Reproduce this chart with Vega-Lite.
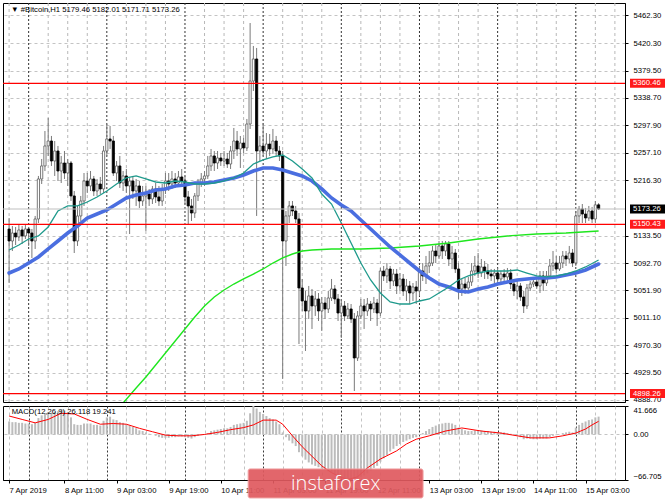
{
  "$schema": "https://vega.github.io/schema/vega-lite/v6.json",
  "padding": {"left": 1, "top": 2, "right": 0, "bottom": 0},
  "background": "#ffffff",
  "spacing": 4,
  "bounds": "flush",
  "datasets": {
    "daylines": [{"h":24},{"h":48},{"h":72},{"h":96},{"h":120},{"h":144},{"h":168},{"h":192}],
    "sixhour": [
{"h":18},{"h":30},{"h":36},{"h":42},{"h":54},{"h":60},{"h":66},{"h":78},{"h":84},{"h":90},{"h":102},{"h":108},
{"h":114},{"h":126},{"h":132},{"h":138},{"h":150},{"h":156},{"h":162},{"h":174},{"h":180},{"h":186},{"h":198},{"h":204}
    ],
    "candles": [
{"h":18,"o":5143.5,"hi":5159.9,"lo":5063.0,"c":5125.6},
{"h":19,"o":5125.6,"hi":5148.0,"lo":5110.7,"c":5137.5},
{"h":20,"o":5137.5,"hi":5146.5,"lo":5119.6,"c":5131.6},
{"h":21,"o":5131.6,"hi":5149.4,"lo":5125.6,"c":5142.0},
{"h":22,"o":5142.0,"hi":5148.0,"lo":5121.1,"c":5133.1},
{"h":23,"o":5133.1,"hi":5149.4,"lo":5128.6,"c":5143.5},
{"h":24,"o":5143.5,"hi":5146.5,"lo":5118.2,"c":5137.5},
{"h":25,"o":5137.5,"hi":5143.5,"lo":5100.3,"c":5125.6},
{"h":26,"o":5125.6,"hi":5162.9,"lo":5113.7,"c":5158.4},
{"h":27,"o":5158.4,"hi":5222.5,"lo":5152.4,"c":5218.0},
{"h":28,"o":5218.0,"hi":5247.8,"lo":5210.5,"c":5237.4},
{"h":29,"o":5237.4,"hi":5289.5,"lo":5229.9,"c":5267.2},
{"h":30,"o":5267.2,"hi":5308.9,"lo":5252.3,"c":5274.6},
{"h":31,"o":5274.6,"hi":5282.1,"lo":5237.4,"c":5244.8},
{"h":32,"o":5244.8,"hi":5274.6,"lo":5222.5,"c":5259.7},
{"h":33,"o":5259.7,"hi":5267.2,"lo":5215.0,"c":5229.9},
{"h":34,"o":5229.9,"hi":5252.3,"lo":5212.0,"c":5241.8},
{"h":35,"o":5241.8,"hi":5259.7,"lo":5218.0,"c":5226.9},
{"h":36,"o":5226.9,"hi":5247.8,"lo":5207.6,"c":5241.8},
{"h":37,"o":5241.8,"hi":5244.8,"lo":5185.2,"c":5192.7},
{"h":38,"o":5192.7,"hi":5200.1,"lo":5107.7,"c":5125.6},
{"h":39,"o":5125.6,"hi":5177.8,"lo":5118.2,"c":5162.9},
{"h":40,"o":5162.9,"hi":5192.7,"lo":5155.4,"c":5185.2},
{"h":41,"o":5185.2,"hi":5226.9,"lo":5177.8,"c":5215.0},
{"h":42,"o":5215.0,"hi":5226.9,"lo":5197.1,"c":5207.6},
{"h":43,"o":5207.6,"hi":5229.9,"lo":5200.1,"c":5218.0},
{"h":44,"o":5218.0,"hi":5222.5,"lo":5192.7,"c":5200.1},
{"h":45,"o":5200.1,"hi":5218.0,"lo":5192.7,"c":5210.5},
{"h":46,"o":5210.5,"hi":5221.0,"lo":5195.6,"c":5203.1},
{"h":47,"o":5203.1,"hi":5267.2,"lo":5197.1,"c":5259.7},
{"h":48,"o":5259.7,"hi":5299.9,"lo":5252.3,"c":5277.6},
{"h":49,"o":5277.6,"hi":5297.0,"lo":5262.7,"c":5274.6},
{"h":50,"o":5274.6,"hi":5282.1,"lo":5222.5,"c":5226.9},
{"h":51,"o":5226.9,"hi":5244.8,"lo":5215.0,"c":5237.4},
{"h":52,"o":5237.4,"hi":5252.3,"lo":5204.6,"c":5212.0},
{"h":53,"o":5212.0,"hi":5229.9,"lo":5200.1,"c":5222.5},
{"h":54,"o":5222.5,"hi":5232.9,"lo":5197.1,"c":5207.6},
{"h":55,"o":5207.6,"hi":5221.0,"lo":5136.0,"c":5215.0},
{"h":56,"o":5215.0,"hi":5222.5,"lo":5188.2,"c":5200.1},
{"h":57,"o":5200.1,"hi":5218.0,"lo":5177.8,"c":5207.6},
{"h":58,"o":5207.6,"hi":5215.0,"lo":5174.8,"c":5185.2},
{"h":59,"o":5185.2,"hi":5207.6,"lo":5177.8,"c":5192.7},
{"h":60,"o":5192.7,"hi":5207.6,"lo":5140.5,"c":5195.6},
{"h":61,"o":5195.6,"hi":5203.1,"lo":5177.8,"c":5188.2},
{"h":62,"o":5188.2,"hi":5207.6,"lo":5180.7,"c":5203.1},
{"h":63,"o":5203.1,"hi":5212.0,"lo":5182.2,"c":5191.2},
{"h":64,"o":5191.2,"hi":5207.6,"lo":5177.8,"c":5185.2},
{"h":65,"o":5185.2,"hi":5210.5,"lo":5177.8,"c":5203.1},
{"h":66,"o":5203.1,"hi":5226.9,"lo":5195.6,"c":5215.0},
{"h":67,"o":5215.0,"hi":5226.9,"lo":5200.1,"c":5210.5},
{"h":68,"o":5210.5,"hi":5229.9,"lo":5203.1,"c":5218.0},
{"h":69,"o":5218.0,"hi":5226.9,"lo":5204.6,"c":5212.0},
{"h":70,"o":5212.0,"hi":5229.9,"lo":5206.1,"c":5221.0},
{"h":71,"o":5221.0,"hi":5232.9,"lo":5206.1,"c":5215.0},
{"h":72,"o":5215.0,"hi":5222.5,"lo":5180.7,"c":5191.2},
{"h":73,"o":5191.2,"hi":5200.1,"lo":5150.9,"c":5177.8},
{"h":74,"o":5177.8,"hi":5188.2,"lo":5155.4,"c":5167.3},
{"h":75,"o":5167.3,"hi":5197.1,"lo":5159.9,"c":5192.7},
{"h":76,"o":5192.7,"hi":5218.0,"lo":5185.2,"c":5212.0},
{"h":77,"o":5212.0,"hi":5226.9,"lo":5206.1,"c":5218.0},
{"h":78,"o":5218.0,"hi":5229.9,"lo":5207.6,"c":5222.5},
{"h":79,"o":5222.5,"hi":5252.3,"lo":5218.0,"c":5237.4},
{"h":80,"o":5237.4,"hi":5262.7,"lo":5229.9,"c":5252.3},
{"h":81,"o":5252.3,"hi":5259.7,"lo":5229.9,"c":5241.8},
{"h":82,"o":5241.8,"hi":5259.7,"lo":5232.9,"c":5249.3},
{"h":83,"o":5249.3,"hi":5256.7,"lo":5237.4,"c":5244.8},
{"h":84,"o":5244.8,"hi":5259.7,"lo":5237.4,"c":5247.8},
{"h":85,"o":5247.8,"hi":5256.7,"lo":5234.4,"c":5240.3},
{"h":86,"o":5240.3,"hi":5267.2,"lo":5232.9,"c":5259.7},
{"h":87,"o":5259.7,"hi":5294.0,"lo":5247.8,"c":5274.6},
{"h":88,"o":5274.6,"hi":5289.5,"lo":5252.3,"c":5262.7},
{"h":89,"o":5262.7,"hi":5282.1,"lo":5234.4,"c":5271.6},
{"h":90,"o":5271.6,"hi":5279.1,"lo":5256.7,"c":5264.2},
{"h":91,"o":5264.2,"hi":5307.4,"lo":5259.7,"c":5299.9},
{"h":92,"o":5299.9,"hi":5450.4,"lo":5292.5,"c":5364.0},
{"h":93,"o":5364.0,"hi":5416.2,"lo":5349.1,"c":5396.8},
{"h":94,"o":5396.8,"hi":5413.2,"lo":5162.9,"c":5259.7},
{"h":95,"o":5259.7,"hi":5282.1,"lo":5244.8,"c":5267.2},
{"h":96,"o":5267.2,"hi":5301.4,"lo":5252.3,"c":5259.7},
{"h":97,"o":5259.7,"hi":5286.5,"lo":5247.8,"c":5270.1},
{"h":98,"o":5270.1,"hi":5285.0,"lo":5252.3,"c":5262.7},
{"h":99,"o":5262.7,"hi":5292.5,"lo":5255.2,"c":5274.6},
{"h":100,"o":5274.6,"hi":5282.1,"lo":5252.3,"c":5259.7},
{"h":101,"o":5259.7,"hi":5267.2,"lo":5244.8,"c":5252.3},
{"h":102,"o":5252.3,"hi":5259.7,"lo":4920.0,"c":5125.6},
{"h":103,"o":5125.6,"hi":5170.3,"lo":5088.4,"c":5162.9},
{"h":104,"o":5162.9,"hi":5185.2,"lo":5152.4,"c":5177.8},
{"h":105,"o":5177.8,"hi":5185.2,"lo":5162.9,"c":5170.3},
{"h":106,"o":5170.3,"hi":5177.8,"lo":5152.4,"c":5158.4},
{"h":107,"o":5158.4,"hi":5167.3,"lo":4972.1,"c":5055.6},
{"h":108,"o":5055.6,"hi":5069.0,"lo":5021.3,"c":5036.2},
{"h":109,"o":5036.2,"hi":5051.1,"lo":4961.7,"c":5021.3},
{"h":110,"o":5021.3,"hi":5058.6,"lo":5009.4,"c":5043.7},
{"h":111,"o":5043.7,"hi":5054.1,"lo":4994.5,"c":5028.8},
{"h":112,"o":5028.8,"hi":5051.1,"lo":5013.9,"c":5039.2},
{"h":113,"o":5039.2,"hi":5048.1,"lo":5006.4,"c":5021.3},
{"h":114,"o":5021.3,"hi":5042.2,"lo":4991.5,"c":5033.2},
{"h":115,"o":5033.2,"hi":5042.2,"lo":5009.4,"c":5024.3},
{"h":116,"o":5024.3,"hi":5051.1,"lo":5018.3,"c":5040.7},
{"h":117,"o":5040.7,"hi":5069.0,"lo":5036.2,"c":5054.1},
{"h":118,"o":5054.1,"hi":5060.0,"lo":5031.7,"c":5039.2},
{"h":119,"o":5039.2,"hi":5046.6,"lo":5006.4,"c":5018.3},
{"h":120,"o":5018.3,"hi":5039.2,"lo":4981.1,"c":5028.8},
{"h":121,"o":5028.8,"hi":5036.2,"lo":5006.4,"c":5013.9},
{"h":122,"o":5013.9,"hi":5033.2,"lo":5009.4,"c":5024.3},
{"h":123,"o":5024.3,"hi":5031.7,"lo":5003.4,"c":5009.4},
{"h":124,"o":5009.4,"hi":5018.3,"lo":4902.1,"c":4951.3},
{"h":125,"o":4951.3,"hi":5021.3,"lo":4946.8,"c":5013.9},
{"h":126,"o":5013.9,"hi":5039.2,"lo":5009.4,"c":5028.8},
{"h":127,"o":5028.8,"hi":5039.2,"lo":4994.5,"c":5021.3},
{"h":128,"o":5021.3,"hi":5040.7,"lo":5013.9,"c":5031.7},
{"h":129,"o":5031.7,"hi":5036.2,"lo":5006.4,"c":5024.3},
{"h":130,"o":5024.3,"hi":5042.2,"lo":5018.3,"c":5033.2},
{"h":131,"o":5033.2,"hi":5039.2,"lo":4999.0,"c":5018.3},
{"h":132,"o":5018.3,"hi":5085.4,"lo":5013.9,"c":5080.9},
{"h":133,"o":5080.9,"hi":5088.4,"lo":5066.0,"c":5073.5},
{"h":134,"o":5073.5,"hi":5092.8,"lo":5063.0,"c":5083.9},
{"h":135,"o":5083.9,"hi":5088.4,"lo":5054.1,"c":5066.0},
{"h":136,"o":5066.0,"hi":5083.9,"lo":5058.6,"c":5076.4},
{"h":137,"o":5076.4,"hi":5083.9,"lo":5046.6,"c":5058.6},
{"h":138,"o":5058.6,"hi":5077.9,"lo":5051.1,"c":5069.0},
{"h":139,"o":5069.0,"hi":5076.4,"lo":5043.7,"c":5051.1},
{"h":140,"o":5051.1,"hi":5069.0,"lo":5036.2,"c":5058.6},
{"h":141,"o":5058.6,"hi":5066.0,"lo":5031.7,"c":5048.1},
{"h":142,"o":5048.1,"hi":5063.0,"lo":5036.2,"c":5057.1},
{"h":143,"o":5057.1,"hi":5066.0,"lo":5031.7,"c":5051.1},
{"h":144,"o":5051.1,"hi":5088.4,"lo":5043.7,"c":5080.9},
{"h":145,"o":5080.9,"hi":5092.8,"lo":5066.0,"c":5073.5},
{"h":146,"o":5073.5,"hi":5103.3,"lo":5061.5,"c":5088.4},
{"h":147,"o":5088.4,"hi":5110.7,"lo":5077.9,"c":5092.8},
{"h":148,"o":5092.8,"hi":5118.2,"lo":5088.4,"c":5110.7},
{"h":149,"o":5110.7,"hi":5121.1,"lo":5092.8,"c":5103.3},
{"h":150,"o":5103.3,"hi":5125.6,"lo":5098.8,"c":5118.2},
{"h":151,"o":5118.2,"hi":5125.6,"lo":5098.8,"c":5110.7},
{"h":152,"o":5110.7,"hi":5125.6,"lo":5103.3,"c":5121.1},
{"h":153,"o":5121.1,"hi":5125.6,"lo":5088.4,"c":5098.8},
{"h":154,"o":5098.8,"hi":5118.2,"lo":5083.9,"c":5107.7},
{"h":155,"o":5107.7,"hi":5113.7,"lo":5077.9,"c":5083.9},
{"h":156,"o":5083.9,"hi":5092.8,"lo":5039.2,"c":5054.1},
{"h":157,"o":5054.1,"hi":5069.0,"lo":5043.7,"c":5061.5},
{"h":158,"o":5061.5,"hi":5070.5,"lo":5046.6,"c":5055.6},
{"h":159,"o":5055.6,"hi":5072.0,"lo":5051.1,"c":5064.5},
{"h":160,"o":5064.5,"hi":5092.8,"lo":5058.6,"c":5080.9},
{"h":161,"o":5080.9,"hi":5103.3,"lo":5073.5,"c":5088.4},
{"h":162,"o":5088.4,"hi":5107.7,"lo":5070.5,"c":5077.9},
{"h":163,"o":5077.9,"hi":5098.8,"lo":5072.0,"c":5086.9},
{"h":164,"o":5086.9,"hi":5095.8,"lo":5069.0,"c":5080.9},
{"h":165,"o":5080.9,"hi":5091.3,"lo":5069.0,"c":5076.4},
{"h":166,"o":5076.4,"hi":5083.9,"lo":5066.0,"c":5073.5},
{"h":167,"o":5073.5,"hi":5083.9,"lo":5063.0,"c":5077.9},
{"h":168,"o":5077.9,"hi":5085.4,"lo":5061.5,"c":5069.0},
{"h":169,"o":5069.0,"hi":5080.9,"lo":5063.0,"c":5076.4},
{"h":170,"o":5076.4,"hi":5083.9,"lo":5066.0,"c":5072.0},
{"h":171,"o":5072.0,"hi":5085.4,"lo":5064.5,"c":5077.9},
{"h":172,"o":5077.9,"hi":5083.9,"lo":5054.1,"c":5061.5},
{"h":173,"o":5061.5,"hi":5069.0,"lo":5043.7,"c":5051.1},
{"h":174,"o":5051.1,"hi":5066.0,"lo":5039.2,"c":5058.6},
{"h":175,"o":5058.6,"hi":5063.0,"lo":5036.2,"c":5042.2},
{"h":176,"o":5042.2,"hi":5051.1,"lo":5018.3,"c":5028.8},
{"h":177,"o":5028.8,"hi":5061.5,"lo":5024.3,"c":5055.6},
{"h":178,"o":5055.6,"hi":5066.0,"lo":5051.1,"c":5061.5},
{"h":179,"o":5061.5,"hi":5069.0,"lo":5057.1,"c":5064.5},
{"h":180,"o":5064.5,"hi":5072.0,"lo":5054.1,"c":5058.6},
{"h":181,"o":5058.6,"hi":5080.9,"lo":5048.1,"c":5073.5},
{"h":182,"o":5073.5,"hi":5080.9,"lo":5051.1,"c":5063.0},
{"h":183,"o":5063.0,"hi":5080.9,"lo":5058.6,"c":5073.5},
{"h":184,"o":5073.5,"hi":5098.8,"lo":5069.0,"c":5088.4},
{"h":185,"o":5088.4,"hi":5110.7,"lo":5080.9,"c":5092.8},
{"h":186,"o":5092.8,"hi":5103.3,"lo":5077.9,"c":5083.9},
{"h":187,"o":5083.9,"hi":5103.3,"lo":5080.9,"c":5092.8},
{"h":188,"o":5092.8,"hi":5110.7,"lo":5085.4,"c":5103.3},
{"h":189,"o":5103.3,"hi":5110.7,"lo":5088.4,"c":5098.8},
{"h":190,"o":5098.8,"hi":5118.2,"lo":5092.8,"c":5107.7},
{"h":191,"o":5107.7,"hi":5113.7,"lo":5086.9,"c":5092.8},
{"h":192,"o":5092.8,"hi":5170.3,"lo":5088.4,"c":5162.9},
{"h":193,"o":5162.9,"hi":5177.8,"lo":5152.4,"c":5173.3},
{"h":194,"o":5173.3,"hi":5180.7,"lo":5152.4,"c":5165.8},
{"h":195,"o":5165.8,"hi":5174.8,"lo":5152.4,"c":5159.9},
{"h":196,"o":5159.9,"hi":5177.8,"lo":5155.4,"c":5170.3},
{"h":197,"o":5170.3,"hi":5176.3,"lo":5152.4,"c":5158.4},
{"h":198,"o":5158.4,"hi":5185.2,"lo":5152.4,"c":5179.46},
{"h":199,"o":5179.46,"hi":5182.01,"lo":5171.71,"c":5173.26}
    ],
    "ma": [
{"h":18,"fast":5112.2,"slow":5077.9},{"h":21,"fast":5119.6,"slow":5083.9},{"h":24,"fast":5128.6,"slow":5092.8},
{"h":27,"fast":5133.1,"slow":5101.8},{"h":30,"fast":5146.5,"slow":5113.7},{"h":33,"fast":5170.3,"slow":5125.6},
{"h":36,"fast":5177.8,"slow":5137.5},{"h":39,"fast":5177.8,"slow":5148.0},{"h":42,"fast":5183.7,"slow":5159.9},
{"h":45,"fast":5191.2,"slow":5165.8},{"h":48,"fast":5200.1,"slow":5171.8},{"h":51,"fast":5210.5,"slow":5180.7},
{"h":54,"fast":5219.5,"slow":5189.7},{"h":57,"fast":5222.5,"slow":5194.1},{"h":60,"fast":5218.0,"slow":5197.1},
{"h":63,"fast":5213.5,"slow":5201.6},{"h":66,"fast":5212.0,"slow":5203.1},{"h":69,"fast":5215.0,"slow":5207.6},
{"h":72,"fast":5213.5,"slow":5209.0},{"h":75,"fast":5210.5,"slow":5212.0},{"h":78,"fast":5210.5,"slow":5212.0},
{"h":81,"fast":5212.0,"slow":5213.5},{"h":84,"fast":5215.0,"slow":5216.5},{"h":87,"fast":5219.5,"slow":5219.5},
{"h":90,"fast":5226.9,"slow":5223.9},{"h":93,"fast":5240.3,"slow":5229.9},{"h":96,"fast":5246.3,"slow":5234.4},
{"h":99,"fast":5250.8,"slow":5234.4},{"h":102,"fast":5253.7,"slow":5231.4},{"h":105,"fast":5244.8,"slow":5226.9},
{"h":108,"fast":5232.9,"slow":5222.5},{"h":111,"fast":5219.5,"slow":5215.0},{"h":114,"fast":5195.6,"slow":5203.1},
{"h":117,"fast":5180.7,"slow":5189.7},{"h":120,"fast":5152.4,"slow":5179.2},{"h":123,"fast":5122.6,"slow":5170.3},
{"h":126,"fast":5092.8,"slow":5156.9},{"h":129,"fast":5067.5,"slow":5143.5},{"h":132,"fast":5048.1,"slow":5130.1},
{"h":135,"fast":5034.7,"slow":5116.7},{"h":138,"fast":5031.7,"slow":5104.8},{"h":141,"fast":5031.7,"slow":5092.8},
{"h":144,"fast":5036.2,"slow":5080.9},{"h":147,"fast":5039.2,"slow":5070.5},{"h":150,"fast":5048.1,"slow":5061.5},
{"h":153,"fast":5057.1,"slow":5057.1},{"h":156,"fast":5067.5,"slow":5051.1},{"h":159,"fast":5073.5,"slow":5049.6},
{"h":162,"fast":5077.9,"slow":5054.1},{"h":165,"fast":5080.9,"slow":5057.1},{"h":168,"fast":5080.9,"slow":5061.5},
{"h":171,"fast":5080.9,"slow":5064.5},{"h":174,"fast":5082.4,"slow":5067.5},{"h":177,"fast":5077.9,"slow":5069.0},
{"h":180,"fast":5073.5,"slow":5070.5},{"h":183,"fast":5072.0,"slow":5070.5},{"h":186,"fast":5073.5,"slow":5072.0},
{"h":189,"fast":5076.4,"slow":5074.9},{"h":192,"fast":5080.9,"slow":5077.9},{"h":195,"fast":5086.9,"slow":5082.4},
{"h":199,"fast":5097.3,"slow":5091.3}
    ],
    "ma200": [
{"h":53,"v":4884.2},{"h":57,"v":4906.6},{"h":60,"v":4923.0},{"h":63,"v":4940.8},{"h":66,"v":4958.7},
{"h":69,"v":4976.6},{"h":72,"v":4994.5},{"h":75,"v":5012.4},{"h":78,"v":5028.8},{"h":81,"v":5042.2},
{"h":84,"v":5052.6},{"h":87,"v":5061.5},{"h":90,"v":5069.0},{"h":93,"v":5076.4},{"h":96,"v":5083.9},
{"h":99,"v":5092.8},{"h":102,"v":5100.3},{"h":105,"v":5106.2},{"h":108,"v":5110.7},{"h":111,"v":5112.2},
{"h":117,"v":5113.7},{"h":126,"v":5113.7},{"h":135,"v":5115.2},{"h":144,"v":5118.2},{"h":153,"v":5122.6},
{"h":162,"v":5128.6},{"h":171,"v":5133.1},{"h":180,"v":5136.0},{"h":189,"v":5137.5},{"h":199,"v":5140.5}
    ],
    "levels": [
{"price":5360.46,"kind":"line"},{"price":5150.43,"kind":"line"},{"price":4898.26,"kind":"line"},{"price":5173.26,"kind":"bid"}
    ],
    "macd": [
{"h":18,"v":19},{"h":19,"v":18},{"h":20,"v":18},{"h":21,"v":17},{"h":22,"v":17},{"h":23,"v":16},{"h":24,"v":16},{"h":25,"v":15},
{"h":26,"v":17},{"h":27,"v":24},{"h":28,"v":28},{"h":29,"v":31},{"h":30,"v":33},{"h":31,"v":32},{"h":32,"v":33},{"h":33,"v":34},
{"h":34,"v":36},{"h":35,"v":35},{"h":36,"v":33},{"h":37,"v":25},{"h":38,"v":15},{"h":39,"v":14},{"h":40,"v":14},{"h":41,"v":16},
{"h":42,"v":16},{"h":43,"v":16},{"h":44,"v":14},{"h":45,"v":14},{"h":46,"v":13},{"h":47,"v":20},{"h":48,"v":25},{"h":49,"v":26},
{"h":50,"v":22},{"h":51,"v":21},{"h":52,"v":18},{"h":53,"v":17},{"h":54,"v":15},{"h":55,"v":13},{"h":56,"v":11},{"h":57,"v":9},
{"h":58,"v":6},{"h":59,"v":5},{"h":60,"v":3},{"h":61,"v":1},{"h":62,"v":0},{"h":63,"v":-2},{"h":64,"v":-4},{"h":65,"v":-5},
{"h":66,"v":-5},{"h":67,"v":-5},{"h":68,"v":-4},{"h":69,"v":-4},{"h":70,"v":-3},{"h":71,"v":-3},{"h":72,"v":-4},{"h":73,"v":-5},
{"h":74,"v":-6},{"h":75,"v":-4},{"h":76,"v":-2},{"h":77,"v":-1},{"h":78,"v":0},{"h":79,"v":2},{"h":80,"v":5},{"h":81,"v":6},
{"h":82,"v":7},{"h":83,"v":8},{"h":84,"v":9},{"h":85,"v":9},{"h":86,"v":11},{"h":87,"v":14},{"h":88,"v":15},{"h":89,"v":16},
{"h":90,"v":17},{"h":91,"v":20},{"h":92,"v":31},{"h":93,"v":41.666},{"h":94,"v":38},{"h":95,"v":33},{"h":96,"v":30},{"h":97,"v":27},
{"h":98,"v":24},{"h":99,"v":22},{"h":100,"v":19},{"h":101,"v":15},{"h":102,"v":3},{"h":103,"v":-4},{"h":104,"v":-9},{"h":105,"v":-13},
{"h":106,"v":-17},{"h":107,"v":-26},{"h":108,"v":-32},{"h":109,"v":-37},{"h":110,"v":-41},{"h":111,"v":-44},{"h":112,"v":-46},{"h":113,"v":-48},
{"h":114,"v":-50},{"h":115,"v":-52},{"h":116,"v":-54},{"h":117,"v":-56},{"h":118,"v":-58},{"h":119,"v":-61},{"h":120,"v":-63},{"h":121,"v":-65},
{"h":122,"v":-66},{"h":123,"v":-66.705},{"h":124,"v":-66},{"h":125,"v":-64},{"h":126,"v":-62},{"h":127,"v":-60},{"h":128,"v":-57},{"h":129,"v":-53},
{"h":130,"v":-49},{"h":131,"v":-46},{"h":132,"v":-40},{"h":133,"v":-35},{"h":134,"v":-30},{"h":135,"v":-25},{"h":136,"v":-21},{"h":137,"v":-17},
{"h":138,"v":-14},{"h":139,"v":-11},{"h":140,"v":-9},{"h":141,"v":-7},{"h":142,"v":-5},{"h":143,"v":-4},{"h":144,"v":0},{"h":145,"v":2},
{"h":146,"v":5},{"h":147,"v":8},{"h":148,"v":11},{"h":149,"v":13},{"h":150,"v":15},{"h":151,"v":16},{"h":152,"v":17},{"h":153,"v":17},
{"h":154,"v":16},{"h":155,"v":14},{"h":156,"v":10},{"h":157,"v":8},{"h":158,"v":6},{"h":159,"v":5},{"h":160,"v":5},{"h":161,"v":6},
{"h":162,"v":6},{"h":163,"v":6},{"h":164,"v":5},{"h":165,"v":5},{"h":166,"v":4},{"h":167,"v":4},{"h":168,"v":3},{"h":169,"v":3},
{"h":170,"v":3},{"h":171,"v":2},{"h":172,"v":1},{"h":173,"v":-1},{"h":174,"v":-2},{"h":175,"v":-4},{"h":176,"v":-7},{"h":177,"v":-6},
{"h":178,"v":-6},{"h":179,"v":-7},{"h":180,"v":-7},{"h":181,"v":-6},{"h":182,"v":-6},{"h":183,"v":-6},{"h":184,"v":-4},{"h":185,"v":-2},
{"h":186,"v":-1},{"h":187,"v":0},{"h":188,"v":2},{"h":189,"v":3},{"h":190,"v":4},{"h":191,"v":3},{"h":192,"v":10},{"h":193,"v":14},
{"h":194,"v":17},{"h":195,"v":19},{"h":196,"v":21},{"h":197,"v":22},{"h":198,"v":25},{"h":199,"v":26.118}
    ],
    "signal": [
{"h":18,"v":27},{"h":22,"v":22},{"h":26,"v":17},{"h":30,"v":22},{"h":34,"v":31},{"h":38,"v":30},{"h":42,"v":22},{"h":46,"v":15},
{"h":50,"v":16},{"h":54,"v":15},{"h":58,"v":9},{"h":62,"v":4},{"h":66,"v":-1},{"h":70,"v":-2},{"h":74,"v":-2},{"h":78,"v":0},
{"h":82,"v":3},{"h":86,"v":7},{"h":90,"v":10},{"h":93,"v":14},{"h":96,"v":21},{"h":100,"v":21},{"h":102,"v":15},{"h":105,"v":-2},
{"h":108,"v":-18},{"h":111,"v":-32},{"h":114,"v":-46},{"h":117,"v":-56},{"h":120,"v":-63},{"h":122,"v":-66},{"h":125,"v":-62},{"h":128,"v":-49},
{"h":132,"v":-36},{"h":137,"v":-24},{"h":140,"v":-14},{"h":143,"v":-7},{"h":147,"v":-2},{"h":152,"v":5},{"h":157,"v":9.5},{"h":163,"v":5},
{"h":169,"v":2},{"h":174,"v":-2},{"h":178,"v":-5},{"h":184,"v":-5},{"h":188,"v":-2},{"h":192,"v":2},{"h":195,"v":8},{"h":197,"v":14},{"h":199,"v":19.241}
    ]
  },
  "vconcat": [
    {
      "width": 622,
      "height": 399,
      "layer": [
        {
          "data": {"name": "sixhour"},
          "mark": {"type": "rule", "color": "#b8b8b8", "strokeWidth": 1, "strokeDash": [3, 3]},
          "encoding": {
            "x": {"field": "h", "type": "quantitative",
                  "scale": {"domain": [17.66, 205.57], "nice": false, "zero": false},
                  "axis": null}
          }
        },
        {
          "data": {"name": "daylines"},
          "mark": {"type": "rule", "color": "#333333", "strokeWidth": 1, "strokeDash": [2, 2]},
          "encoding": {
            "x": {"field": "h", "type": "quantitative"}
          }
        },
        {
          "data": {"name": "candles"},
          "mark": {"type": "rule", "color": "#7a7a7a", "strokeWidth": 1},
          "encoding": {
            "x": {"field": "h", "type": "quantitative"},
            "y": {"field": "lo", "type": "quantitative",
                  "scale": {"domain": [4885.7, 5480.2], "nice": false, "zero": false},
                  "axis": {"orient": "right", "values": [4888.7,4929.5,4970.3,5011.1,5051.9,5092.7,5133.5,5216.3,5257.1,5297.9,5338.7,5379.5,5420.3,5462.3],
                           "tickCount": 200, "format": ".2f", "grid": true, "gridColor": "#c4c4c4", "gridDash": [3, 3],
                           "tickSize": 3, "labelPadding": 5, "labelFlush": false, "labelOverlap": false, "labelBound": false}},
            "y2": {"field": "hi"}
          }
        },
        {
          "data": {"name": "candles"},
          "mark": {"type": "bar", "size": 2.2, "strokeWidth": 0.8},
          "encoding": {
            "x": {"field": "h", "type": "quantitative"},
            "y": {"field": "o", "type": "quantitative"},
            "y2": {"field": "c"},
            "fill": {"condition": {"test": "datum.c >= datum.o", "value": "#ffffff"}, "value": "#000000"},
            "stroke": {"condition": {"test": "datum.c >= datum.o", "value": "#5a5a5a"}, "value": "#000000"}
          }
        },
        {
          "data": {"name": "ma200"},
          "mark": {"type": "line", "color": "#1ee61e", "strokeWidth": 1.4, "clip": true},
          "encoding": {"x": {"field": "h", "type": "quantitative"}, "y": {"field": "v", "type": "quantitative"}}
        },
        {
          "data": {"name": "ma"},
          "mark": {"type": "line", "color": "#4a6ee0", "strokeWidth": 3.6, "strokeCap": "round", "clip": true},
          "encoding": {"x": {"field": "h", "type": "quantitative"}, "y": {"field": "slow", "type": "quantitative"}}
        },
        {
          "data": {"name": "ma"},
          "mark": {"type": "line", "color": "#1f9a8c", "strokeWidth": 1.3, "clip": true},
          "encoding": {"x": {"field": "h", "type": "quantitative"}, "y": {"field": "fast", "type": "quantitative"}}
        },
        {
          "data": {"name": "levels"},
          "mark": {"type": "rule", "strokeWidth": 1.2},
          "encoding": {
            "y": {"field": "price", "type": "quantitative"},
            "color": {"condition": {"test": "datum.kind == 'bid'", "value": "#c0c0c0"}, "value": "#ff0000"}
          }
        },
        {
          "data": {"name": "levels"},
          "mark": {"type": "tick", "orient": "horizontal", "size": 36, "thickness": 9, "xOffset": 23, "opacity": 1},
          "encoding": {
            "x": {"value": "width"},
            "y": {"field": "price", "type": "quantitative"},
            "color": {"condition": {"test": "datum.kind == 'bid'", "value": "#000000"}, "value": "#ff1a1a"}
          }
        },
        {
          "data": {"name": "levels"},
          "mark": {"type": "text", "align": "left", "baseline": "middle", "dx": 8, "fontSize": 7.7, "font": "Liberation Sans", "color": "#ffffff"},
          "encoding": {
            "x": {"value": "width"},
            "y": {"field": "price", "type": "quantitative"},
            "text": {"field": "price", "type": "quantitative", "format": ".2f"}
          }
        },
        {
          "data": {"values": [{"label": "▼  #Bitcoin,H1  5179.46 5182.01 5171.71 5173.26"}]},
          "mark": {"type": "text", "align": "left", "baseline": "middle", "fontSize": 7.7, "font": "Liberation Sans", "color": "#000000"},
          "encoding": {
            "x": {"datum": 18.6, "type": "quantitative"},
            "y": {"datum": 5469.5, "type": "quantitative"},
            "text": {"field": "label"}
          }
        }
      ]
    },
    {
      "width": 622,
      "height": 74,
      "layer": [
        {
          "data": {"name": "macd"},
          "mark": {"type": "bar", "size": 2, "color": "#bcbcbc"},
          "encoding": {
            "x": {"field": "h", "type": "quantitative",
                  "scale": {"domain": [17.66, 205.57], "nice": false, "zero": false},
                  "axis": {"orient": "bottom", "grid": true, "domain": true, "tickCount": 200,
                           "values": [18,24,30,35,36,42,48,51,54,60,66,67,72,78,83,84,90,96,99,102,108,114,115,120,126,131,132,138,144,147,150,156,162,163,168,174,179,180,186,192,195,198,204],
                           "labelExpr": "datum.value == 18 ? '7 Apr 2019' : ((datum.value - 3) % 16 == 0 ? (floor(datum.value / 24) + 7) + ' Apr ' + (datum.value % 24 < 10 ? '0' : '') + (datum.value % 24) + ':00' : '')",
                           "labelAlign": "left", "labelBaseline": "top", "labelFlush": false, "labelOverlap": false, "labelBound": false,
                           "tickSize": 3, "labelPadding": 3,
                           "tickOpacity": {"condition": {"test": "datum.value == 18 || (datum.value - 3) % 16 == 0", "value": 1}, "value": 0},
                           "gridOpacity": {"condition": {"test": "datum.value % 6 == 0", "value": 1}, "value": 0},
                           "gridColor": {"condition": {"test": "datum.value % 24 == 0", "value": "#3a3a3a"}, "value": "#c4c4c4"},
                           "gridDash": {"condition": {"test": "datum.value % 24 == 0", "value": [2, 2]}, "value": [3, 3]}}},
            "y": {"field": "v", "type": "quantitative",
                  "scale": {"domain": [-66.705, 41.666], "nice": false, "zero": false},
                  "axis": {"orient": "right", "values": [-66.705, 0, 41.666], "tickCount": 200,
                           "labelExpr": "datum.value == 0 ? '0.00' : format(datum.value, '.3f')",
                           "labelFlush": true, "labelOverlap": false, "tickSize": 3, "labelPadding": 5,
                           "grid": true, "gridColor": "#c4c4c4", "gridDash": [3, 3],
                           "gridOpacity": {"condition": {"test": "datum.value == 0", "value": 1}, "value": 0}}}
          }
        },
        {
          "data": {"name": "signal"},
          "mark": {"type": "line", "color": "#ff0000", "strokeWidth": 1},
          "encoding": {"x": {"field": "h", "type": "quantitative"}, "y": {"field": "v", "type": "quantitative"}}
        },
        {
          "data": {"values": [{"label": "MACD(12,26,9) 26.118 19.241"}]},
          "mark": {"type": "text", "align": "left", "baseline": "middle", "fontSize": 7.7, "font": "Liberation Sans", "color": "#000000"},
          "encoding": {
            "x": {"datum": 18.8, "type": "quantitative"},
            "y": {"datum": 33, "type": "quantitative"},
            "text": {"field": "label"}
          }
        },
        {
          "data": {"values": [{"brand": "instaforex"}]},
          "mark": {"type": "rect", "color": "#e05a5f", "opacity": 0.92, "cornerRadius": 2, "stroke": "#f09a9c", "strokeWidth": 1},
          "encoding": {
            "x": {"datum": 91.4, "type": "quantitative"},
            "x2": {"datum": 145.1},
            "y": {"datum": -50.5, "type": "quantitative"},
            "y2": {"datum": -93}
          }
        },
        {
          "data": {"values": [{"brand": "instaforex"}]},
          "mark": {"type": "text", "align": "center", "baseline": "middle", "fontSize": 20, "font": "Open Sans", "fontWeight": 300, "color": "#ffffff"},
          "encoding": {
            "x": {"datum": 118.3, "type": "quantitative"},
            "y": {"datum": -72, "type": "quantitative"},
            "text": {"field": "brand"}
          }
        }
      ]
    }
  ],
  "config": {
    "font": "Liberation Sans",
    "view": {"stroke": "#000000", "strokeWidth": 1},
    "axis": {"labelFont": "Liberation Sans", "labelFontSize": 7.7, "labelColor": "#000000", "domainColor": "#000000", "tickColor": "#000000", "title": null}
  }
}
